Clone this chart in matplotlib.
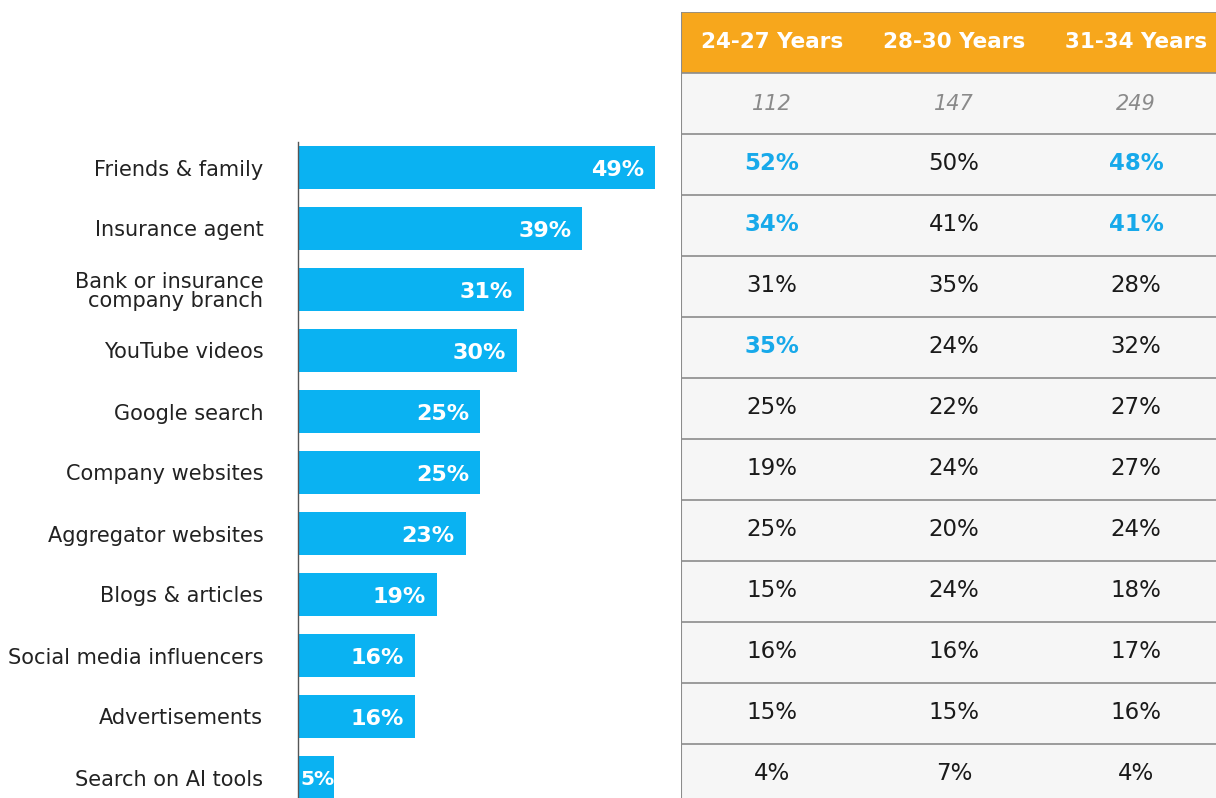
import matplotlib.pyplot as plt
from matplotlib.patches import Rectangle

plt.rcParams['font.family'] = ['DejaVu Sans']

# sources of information, overall share
sources = ['Friends & family', 'Insurance agent', 'Bank or insurance\ncompany branch',
           'YouTube videos', 'Google search', 'Company websites', 'Aggregator websites',
           'Blogs & articles', 'Social media influencers', 'Advertisements', 'Search on AI tools']
overall = [49, 39, 31, 30, 25, 25, 23, 19, 16, 16, 5]

# split by age group
age_groups = ['24-27 Years', '28-30 Years', '31-34 Years']
base_sizes = [112, 147, 249]
age_24_27 = [52, 34, 31, 35, 25, 19, 25, 15, 16, 15, 4]
age_28_30 = [50, 41, 35, 24, 22, 24, 20, 24, 16, 15, 7]
age_31_34 = [48, 41, 28, 32, 27, 27, 24, 18, 17, 16, 4]
# cells shown in blue bold: (row, column)
highlight = [(0, 0), (0, 2), (1, 0), (1, 2), (3, 0)]

BLUE = '#0AB2F2'
BLUE_TXT = '#17A9EA'
ORANGE = '#F7A71C'
GRID = '#8C8C8C'
CELL_BG = '#F6F6F6'

W, H = 1216, 798
fig = plt.figure(figsize=(W / 100, H / 100), dpi=100)

top_px, pitch = 12, 61
y_top = -2.5
y_bot = y_top + (H - top_px) / pitch

# bar chart (sits a few pixels lower than the table rows)
shift = 3
ax = fig.add_axes([298 / W, -shift / H, 383 / W, (H - top_px) / H])
n = len(sources)
ax.barh(range(n), overall, height=0.72, color=BLUE)
ax.set_xlim(0, 383 / 7.29)
ax.set_ylim(y_bot, y_top)
for i, v in enumerate(overall):
    if v >= 10:
        ax.text(v - 1.5, i + 0.04, f'{v}%', ha='right', va='center', color='white',
                fontsize=16, fontweight='bold')
    else:
        ax.text(0.4, i + 0.04, f'{v}%', ha='left', va='center', color='white',
                fontsize=14.5, fontweight='bold')
ax.set_yticks(range(n))
ax.set_yticklabels(sources, fontsize=15, color='#222222', linespacing=0.95)
ax.tick_params(axis='y', length=0, pad=25)
ax.set_xticks([])
for s in ['top', 'right', 'bottom']:
    ax.spines[s].set_visible(False)
ax.spines['left'].set_bounds(y_bot, -0.42)
ax.spines['left'].set_color('#555555')
ax.spines['left'].set_linewidth(1)
ax.patch.set_alpha(0)

# table by age group
tb = fig.add_axes([681 / W, 0, 546 / W, (H - top_px) / H])
tb.set_xlim(0, 3)
tb.set_ylim(y_bot, y_top)
tb.axis('off')
tb.add_patch(Rectangle((0, -1.5), 3, y_bot + 1.5, facecolor=CELL_BG, edgecolor='none'))
tb.add_patch(Rectangle((0, y_top), 3, 1, facecolor=ORANGE, edgecolor='none'))
tb.plot([0, 3], [y_top, y_top], color=GRID, lw=1.2)
for k in range(-1, n):
    tb.plot([0, 3], [k - 0.5, k - 0.5], color=GRID, lw=1.2)
tb.plot([0, 0], [y_top, y_bot], color=GRID, lw=1.5)

for j, g in enumerate(age_groups):
    tb.text(j + 0.5, -2, g, ha='center', va='center', color='white',
            fontsize=15.5, fontweight='bold')
    tb.text(j + 0.5, -1, str(base_sizes[j]), ha='center', va='center', color='#8A8A8A',
            fontsize=15, style='italic')

for j, col in enumerate([age_24_27, age_28_30, age_31_34]):
    for i, v in enumerate(col):
        hi = (i, j) in highlight
        tb.text(j + 0.5, i - 0.02, f'{v}%', ha='center', va='center',
                color=BLUE_TXT if hi else '#1A1A1A',
                fontsize=16.5, fontweight='bold' if hi else 'normal')

fig.savefig('out.png', dpi=100)
